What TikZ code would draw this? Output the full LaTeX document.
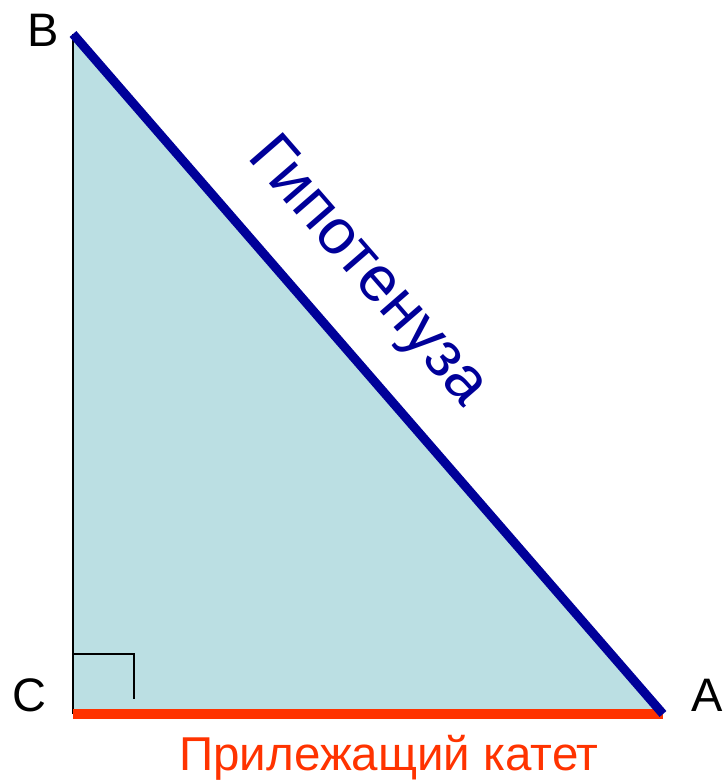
\documentclass[tikz,border=0pt]{standalone}
\usepackage{fontspec}
\setmainfont{Liberation Sans}
\definecolor{legfill}{HTML}{BBDFE3}
\definecolor{hypblue}{HTML}{000099}
\definecolor{legred}{HTML}{FF3300}
\begin{document}
\begin{tikzpicture}[x=1pt, y=-1pt,
    vertexlabel/.style={font=\fontsize{47}{56}\selectfont, inner sep=0pt},
    sidelabel/.style={font=\fontsize{47.5}{56}\selectfont, inner sep=0pt, anchor=base}]
    \useasboundingbox (0,0) rectangle (724,781);

    % Vertices of the right triangle
    \coordinate (C) at (73,714);
    \coordinate (B) at (73,34);
    \coordinate (A) at (663,714);

    % Right-angle mark
    \coordinate (R1) at (73,654);
    \coordinate (R2) at (134,654);
    \coordinate (R3) at (134,699);

    % Triangle area
    \fill[legfill] (C) -- (B) -- (A) -- cycle;

    % Leg BC and right angle
    \draw[black, line width=1.5pt] (C) -- (B);
    \draw[black, line width=1.5pt] (R1) -- (R2) -- (R3);

    % Adjacent leg and hypotenuse
    \draw[legred, line width=10pt] (C) -- (A);
    \draw[hypblue, line width=9pt] (B) -- (A)
        node[pos=0.414, sloped, anchor=base, yshift=50pt, inner sep=0pt,
             font=\fontsize{64}{76}\selectfont] (hyplabel) {Гипотенуза};

    % Vertex names
    \node[vertexlabel] (Blabel) at (43,30) {B};
    \node[vertexlabel] (Clabel) at (29,695) {C};
    \node[vertexlabel] (Alabel) at (707,695) {A};

    % Name of the adjacent leg
    \node[sidelabel, legred] (adjlabel) at (389,770.7) {Прилежащий катет};
\end{tikzpicture}
\end{document}
